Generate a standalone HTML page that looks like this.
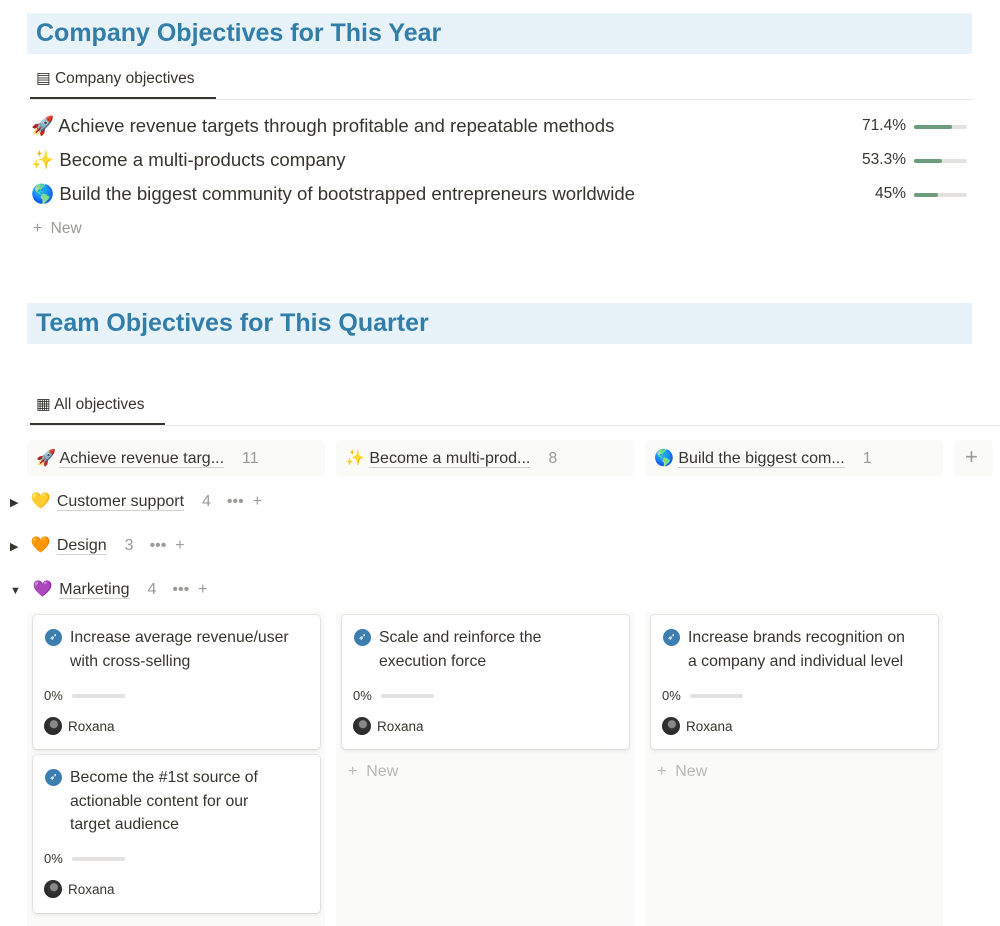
<!DOCTYPE html>
<html><head><meta charset="utf-8"><style>
*{box-sizing:border-box;margin:0;padding:0}
body{width:1000px;height:926px;overflow:hidden;background:#fff;font-family:"Liberation Sans","DejaVu Sans",sans-serif;color:#37352f;position:relative}
.abs{position:absolute}
.band{position:absolute;left:27px;width:945px;height:41px;background:#e7f3f8;color:#337ea9;font-size:25px;font-weight:bold;padding:6px 0 0 9px}
.tab{position:absolute;font-size:15.5px;color:#37352f}
.row{position:absolute;left:31px;font-size:18.6px;white-space:nowrap}
.pct{position:absolute;font-size:15.5px;text-align:right;width:80px;left:826px}
.track{position:absolute;left:914px;width:53px;height:4px;border-radius:2px;background:#e3e2e0}
.fill{position:absolute;left:0;top:0;height:4px;border-radius:2px;background:#6c9b7d}
.colh{position:absolute;top:440px;height:36px;background:#fafaf9;border-radius:4px;font-size:16px;padding:8px 0 0 9px;white-space:nowrap}
.u{border-bottom:1px solid #d3d2cf}
.cnt{color:#9b9a97;margin-left:18px}
.grp{position:absolute;left:10px;font-size:16px;white-space:nowrap}
.grp .e{margin-left:12px;margin-right:2px}
.colbg{position:absolute;top:612px;width:298px;height:314px;background:#fafaf9}
.card{position:absolute;width:287px;background:#fff;border-radius:4px;box-shadow:0 0 0 1px rgba(15,15,15,.08),0 2px 4px rgba(15,15,15,.08)}
.ct{position:absolute;left:37px;top:11px;font-size:15.8px;line-height:23.5px;width:250px;white-space:nowrap}
.ic{position:absolute;left:12px;top:14px;width:17px;height:17px;border-radius:50%;background:#3d7eb0;color:#fff;font-size:10px;text-align:center;line-height:17px}
.p0{position:absolute;left:11px;font-size:13px}
.sb{position:absolute;left:39px;width:53px;height:4px;border-radius:2px;background:#e3e2e0}
.av{position:absolute;left:11px;width:18px;height:18px;border-radius:50%;background:radial-gradient(circle at 55% 40%,#888 0 25%,#333 30%,#222)}
.nm{position:absolute;left:35px;font-size:13.5px}
.newc{position:absolute;top:763px;font-size:16px;color:#b9b8b5}
</style></head><body>
<div class="band" style="top:13px">Company Objectives for This Year</div>
<div class="tab" style="left:36px;top:69px">&#9636; Company objectives</div>
<div class="abs" style="left:27px;top:99px;width:945px;height:1px;background:#e9e9e7"></div>
<div class="abs" style="left:30px;top:97px;width:186px;height:2px;background:#37352f"></div>
<div id="rows"></div>
<div class="abs" style="left:33px;top:220px;font-size:15.5px;color:#9b9a97">+ &nbsp;New</div>

<div class="band" style="top:303px">Team Objectives for This Quarter</div>
<div class="tab" style="left:36px;top:395px">&#9638; All objectives</div>
<div class="abs" style="left:27px;top:425px;width:973px;height:1px;background:#e9e9e7"></div>
<div class="abs" style="left:30px;top:423px;width:135px;height:2px;background:#37352f"></div>

<div class="colh" style="left:27px;width:298px">🚀 <span class="u">Achieve revenue targ...</span><span class="cnt">11</span></div>
<div class="colh" style="left:336px;width:298px">✨ <span class="u">Become a multi-prod...</span><span class="cnt">8</span></div>
<div class="colh" style="left:645px;width:298px">🌎 <span class="u">Build the biggest com...</span><span class="cnt">1</span></div>
<div class="colh" style="left:954px;width:39px;font-size:22px;color:#9b9a97;padding:4px 0 0 11px">+</div>

<div class="grp" style="top:491px"><span style="font-size:11px">▶</span><span class="e">💛</span> <span class="u">Customer support</span><span class="cnt">4</span><span style="color:#9b9a97;margin-left:16px">••• &nbsp;+</span></div>
<div class="grp" style="top:535px"><span style="font-size:11px">▶</span><span class="e">🧡</span> <span class="u">Design</span><span class="cnt">3</span><span style="color:#9b9a97;margin-left:16px">••• &nbsp;+</span></div>
<div class="grp" style="top:579px"><span style="font-size:11px">▼</span><span class="e">💜</span> <span class="u">Marketing</span><span class="cnt">4</span><span style="color:#9b9a97;margin-left:16px">••• &nbsp;+</span></div>

<div class="colbg" style="left:27px"></div><div class="colbg" style="left:336px"></div><div class="colbg" style="left:645px"></div>

<div class="card" style="left:33px;top:615px;height:134px"><div class="ic">➶</div><div class="ct">Increase average revenue/user<br>with cross-selling</div><div class="p0" style="top:73px">0%</div><div class="sb" style="top:79px"></div><div class="av" style="top:102px"></div><div class="nm" style="top:104px">Roxana</div></div>
<div class="card" style="left:33px;top:755px;height:158px"><div class="ic">➶</div><div class="ct">Become the #1st source of<br>actionable content for our<br>target audience</div><div class="p0" style="top:96px">0%</div><div class="sb" style="top:102px"></div><div class="av" style="top:125px"></div><div class="nm" style="top:127px">Roxana</div></div>
<div class="card" style="left:342px;top:615px;height:134px"><div class="ic">➶</div><div class="ct">Scale and reinforce the<br>execution force</div><div class="p0" style="top:73px">0%</div><div class="sb" style="top:79px"></div><div class="av" style="top:102px"></div><div class="nm" style="top:104px">Roxana</div></div>
<div class="card" style="left:651px;top:615px;height:134px"><div class="ic">➶</div><div class="ct">Increase brands recognition on<br>a company and individual level</div><div class="p0" style="top:73px">0%</div><div class="sb" style="top:79px"></div><div class="av" style="top:102px"></div><div class="nm" style="top:104px">Roxana</div></div>
<div class="newc" style="left:348px">+ &nbsp;New</div>
<div class="newc" style="left:657px">+ &nbsp;New</div>

<script>
const objectives = ["Achieve revenue targets through profitable and repeatable methods","Become a multi-products company","Build the biggest community of bootstrapped entrepreneurs worldwide"];
const icons = ["🚀","✨","🌎"];
const progress = [71.4, 53.3, 45];
const labels = ["71.4%","53.3%","45%"];
const wrap = document.getElementById('rows');
objectives.forEach((t,i)=>{
  const y = 115 + i*34;
  const r = document.createElement('div');
  r.className='row'; r.style.top=y+'px';
  r.textContent = icons[i]+' '+t;
  
  
  wrap.appendChild(r);
  const p = document.createElement('div');
  p.className='pct'; p.style.top=(y+2)+'px'; p.textContent=labels[i];
  
  
  wrap.appendChild(p);
  const tr = document.createElement('div');
  tr.className='track'; tr.style.top=(y+10)+'px';
  
  
  const f = document.createElement('div');
  f.className='fill'; f.style.width=(53*progress[i]/100)+'px';
  
  
  tr.appendChild(f); wrap.appendChild(tr);
});
</script>
</body></html>
